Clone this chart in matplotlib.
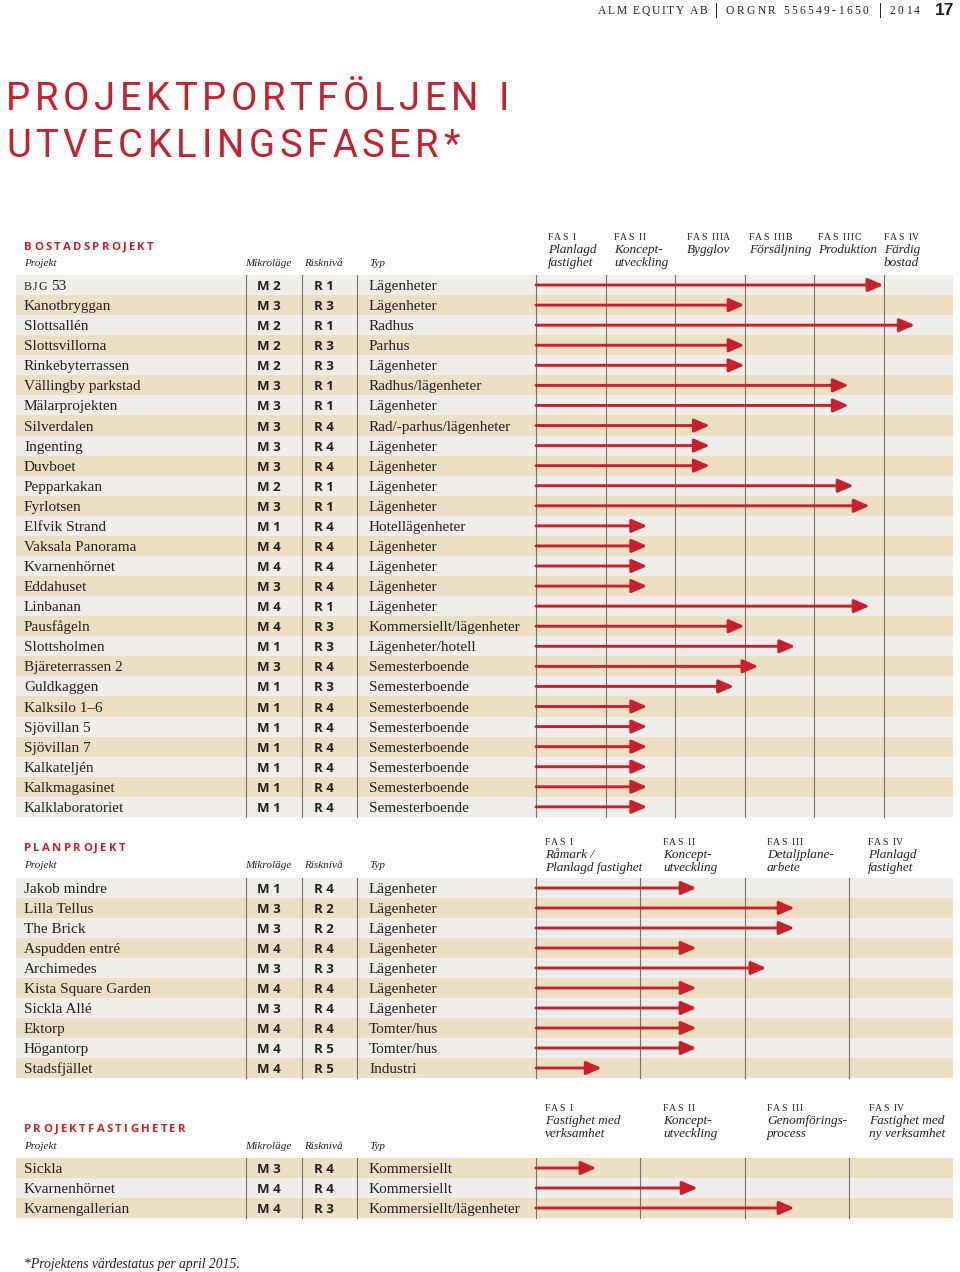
import matplotlib
matplotlib.use("Agg")
import matplotlib.pyplot as plt
from matplotlib.patches import Rectangle

# ---- DATA ----
bostad_projekt = ["BJG 53", "Kanotbryggan", "Slottsallén", "Slottsvillorna", "Rinkebyterrassen",
                  "Vällingby parkstad", "Mälarprojekten", "Silverdalen", "Ingenting", "Duvboet",
                  "Pepparkakan", "Fyrlotsen", "Elfvik Strand", "Vaksala Panorama", "Kvarnenhörnet",
                  "Eddahuset", "Linbanan", "Pausfågeln", "Slottsholmen", "Bjäreterrassen 2",
                  "Guldkaggen", "Kalksilo 1–6", "Sjövillan 5", "Sjövillan 7", "Kalkateljén",
                  "Kalkmagasinet", "Kalklaboratoriet"]
bostad_mikro = ["M 2", "M 3", "M 2", "M 2", "M 2", "M 3", "M 3", "M 3", "M 3", "M 3", "M 2", "M 3",
                "M 1", "M 4", "M 4", "M 3", "M 4", "M 4", "M 1", "M 3", "M 1", "M 1", "M 1", "M 1",
                "M 1", "M 1", "M 1"]
bostad_risk = ["R 1", "R 3", "R 1", "R 3", "R 3", "R 1", "R 1", "R 4", "R 4", "R 4", "R 1", "R 1",
               "R 4", "R 4", "R 4", "R 4", "R 1", "R 3", "R 3", "R 4", "R 3", "R 4", "R 4", "R 4",
               "R 4", "R 4", "R 4"]
bostad_typ = ["Lägenheter", "Lägenheter", "Radhus", "Parhus", "Lägenheter", "Radhus/lägenheter",
              "Lägenheter", "Rad/-parhus/lägenheter", "Lägenheter", "Lägenheter", "Lägenheter",
              "Lägenheter", "Hotellägenheter", "Lägenheter", "Lägenheter", "Lägenheter", "Lägenheter",
              "Kommersiellt/lägenheter", "Lägenheter/hotell"] + ["Semesterboende"] * 8
bostad_fas = [5.0, 3.0, 5.45, 3.0, 3.0, 4.5, 4.5, 2.5, 2.5, 2.5, 4.57, 4.8, 1.6, 1.6, 1.6, 1.6,
              4.8, 3.0, 3.73, 3.2, 2.85, 1.6, 1.6, 1.6, 1.6, 1.6, 1.6]
bostad_faser = [("FAS I", ["Planlagd", "fastighet"]), ("FAS II", ["Koncept-", "utveckling"]),
                ("FAS IIIA", ["Bygglov"]), ("FAS IIIB", ["Försäljning"]),
                ("FAS IIIC", ["Produktion"]), ("FAS IV", ["Färdig", "bostad"])]

plan_projekt = ["Jakob mindre", "Lilla Tellus", "The Brick", "Aspudden entré", "Archimedes",
                "Kista Square Garden", "Sickla Allé", "Ektorp", "Högantorp", "Stadsfjället"]
plan_mikro = ["M 1", "M 3", "M 3", "M 4", "M 3", "M 4", "M 3", "M 4", "M 4", "M 4"]
plan_risk = ["R 4", "R 2", "R 2", "R 4", "R 3", "R 4", "R 4", "R 4", "R 5", "R 5"]
plan_typ = ["Lägenheter"] * 7 + ["Tomter/hus", "Tomter/hus", "Industri"]
plan_fas = [1.54, 2.48, 2.48, 1.54, 2.21, 1.54, 1.54, 1.54, 1.54, 0.63]
plan_faser = [("FAS I", ["Råmark /", "Planlagd fastighet"]), ("FAS II", ["Koncept-", "utveckling"]),
              ("FAS III", ["Detaljplane-", "arbete"]), ("FAS IV", ["Planlagd", "fastighet"])]

pf_projekt = ["Sickla", "Kvarnenhörnet", "Kvarnengallerian"]
pf_mikro = ["M 3", "M 4", "M 4"]
pf_risk = ["R 4", "R 4", "R 3"]
pf_typ = ["Kommersiellt", "Kommersiellt", "Kommersiellt/lägenheter"]
pf_fas = [0.58, 1.55, 2.48]
pf_faser = [("FAS I", ["Fastighet med", "verksamhet"]), ("FAS II", ["Koncept-", "utveckling"]),
            ("FAS III", ["Genomförings-", "process"]), ("FAS IV", ["Fastighet med", "ny verksamhet"])]

# ---- STYLE ----
RED = "#c8202f"
LIGHT = "#f0eeea"
BEIGE = "#ecdfc4"
LINE = "#77716a"
TEXT = "#231f20"
SERIF = "Liberation Serif"
SANS = "Open Sans"

fig = plt.figure(figsize=(9.6, 12.72), dpi=100)
ax = fig.add_axes([0, 0, 1, 1])
ax.set_xlim(0, 960)
ax.set_ylim(1272, 0)
ax.axis("off")
renderer = fig.canvas.get_renderer()


def spaced(x, y, s, track, **kw):
    # letter-spaced text, one glyph at a time
    size = kw.get("size", 10)
    for ch in s:
        if ch == " ":
            x += size * 100 / 72 * 0.28 + track
            continue
        t = ax.text(x, y, ch, va="baseline", **kw)
        x += t.get_window_extent(renderer).width + track
    return x


def name_text(x, y, name):
    # "BJG 53" is set in small caps
    if name.startswith("BJG"):
        x = spaced(x, y, "BJG", 0.8, size=8.5, family=SERIF, color=TEXT)
        ax.text(x + 4, y, name[4:], size=11, family=SERIF, color=TEXT, va="baseline")
    else:
        ax.text(x, y, name, size=11, family=SERIF, color=TEXT, va="baseline")


def section(top, row_h, title, title_y, head_y, fas_y, names, mikro, risk, typ, fas, faser, fas_x,
            first_light, right=953):
    n = len(names)
    bottom = top + n * row_h
    spaced(24, title_y, title, 2.3, size=8.2, family=SANS, weight="bold", color=RED)
    for x, lab in [(24, "Projekt"), (245, "Mikroläge"), (304, "Risknivå"), (369, "Typ")]:
        ax.text(x, head_y, lab, size=8, family=SERIF, style="italic", color=TEXT, va="baseline")
    for (fname, desc), x in zip(faser, fas_x):
        spaced(x, fas_y, fname, 0.9, size=7, family=SERIF, color=TEXT)
        for j, line in enumerate(desc):
            ax.text(x, fas_y + 13 * (j + 1), line, size=9.5, family=SERIF, style="italic",
                    color=TEXT, va="baseline")

    for i in range(n):
        c = LIGHT if (i % 2 == 0) == first_light else BEIGE
        ax.add_patch(Rectangle((16, top + i * row_h), right - 16, row_h, color=c, lw=0))
        yb = top + (i + 0.5) * row_h + 5
        name_text(24, yb, names[i])
        ax.text(269, yb, mikro[i], size=9.5, family=SANS, weight="bold", color=TEXT,
                va="baseline", ha="center")
        ax.text(324, yb, risk[i], size=9.5, family=SANS, weight="bold", color=TEXT,
                va="baseline", ha="center")
        ax.text(369, yb, typ[i], size=11, family=SERIF, color=TEXT, va="baseline")
    for x in (246, 302, 357):
        ax.plot([x, x], [top, bottom], color=LINE, lw=0.8)

    # arrow panel in phase units
    aax = fig.add_axes([536 / 960, 1 - bottom / 1272, (right - 536) / 960, (bottom - top) / 1272])
    aax.set_xlim(0, len(faser))
    aax.set_ylim(n - 0.5, -0.5)
    aax.axis("off")
    aax.patch.set_alpha(0)
    for k in range(len(faser)):
        aax.axvline(k, color=LINE, lw=0.8, clip_on=False)
    for i, v in enumerate(fas):
        aax.annotate("", xy=(v, i), xytext=(0, i), annotation_clip=False,
                     arrowprops=dict(arrowstyle="-|>,head_length=0.46,head_width=0.2",
                                     mutation_scale=20, color=RED, lw=2.1,
                                     shrinkA=0, shrinkB=0))


# ---- PAGE HEADER ----
spaced(598, 14, "ALM EQUITY AB", 1.6, size=8.3, family=SERIF, color=TEXT)
ax.plot([716, 716], [3, 17], color=TEXT, lw=0.7)
spaced(726, 14, "ORGNR 556549-1650", 2.3, size=8.3, family=SERIF, color=TEXT)
ax.plot([880, 880], [3, 17], color=TEXT, lw=0.7)
spaced(889, 14, "2014", 2.6, size=8.3, family=SERIF, color=TEXT)
ax.text(935, 15, "17", size=12.5, family="Liberation Sans", weight="bold", color=TEXT,
        va="baseline")

spaced(6, 110, "PROJEKTPORTFÖLJEN I", 4.6, size=27.5, family="Roboto", weight="normal", color=RED)
spaced(6, 157, "UTVECKLINGSFASER*", 4.6, size=27.5, family="Roboto", weight="normal", color=RED)

# ---- SECTIONS ----
section(275, 20.07, "BOSTADSPROJEKT", 250, 266, 240, bostad_projekt, bostad_mikro, bostad_risk,
        bostad_typ, bostad_fas, bostad_faser, [548, 614, 687, 749, 818, 884], True)
section(878, 20, "PLANPROJEKT", 851, 868, 845, plan_projekt, plan_mikro, plan_risk, plan_typ,
        plan_fas, plan_faser, [545, 663, 767, 868], True)
section(1158, 20, "PROJEKTFASTIGHETER", 1132, 1149, 1111, pf_projekt, pf_mikro, pf_risk, pf_typ,
        pf_fas, pf_faser, [545, 663, 767, 869], False)

ax.text(24, 1268, "*Projektens värdestatus per april 2015.", size=9.8, family=SERIF, style="italic",
        color=TEXT, va="baseline")

fig.savefig("out.png", dpi=100)
